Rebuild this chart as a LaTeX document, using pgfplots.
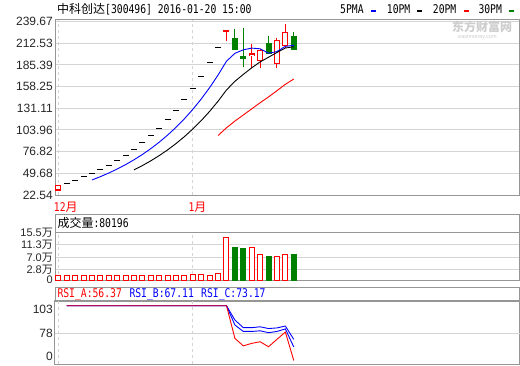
\documentclass[border=0pt]{standalone}
\usepackage{pgfplots}
\pgfplotsset{compat=1.18}
\usepackage{pgfplotstable}
\usepackage{fontspec}
\setmainfont{Liberation Sans}
\newfontfamily\cjk{Noto Sans CJK SC}
\newfontfamily\mono[FakeStretch=0.81]{DejaVu Sans Mono}
\definecolor{upred}{RGB}{255,0,0}
\definecolor{dngreen}{RGB}{0,128,0}
\definecolor{mablue}{RGB}{0,0,255}
\definecolor{framec}{RGB}{150,150,150}
\definecolor{gridc}{RGB}{212,212,212}
\definecolor{wm}{RGB}{205,205,205}

% candles: day index, open, high, low, close
\pgfplotstableread{
i O H L C
0 28.8 33.86 27.5 33.86
20 227.8 227.8 215.6 227.8
23 196.5 211.5 182.0 199.0
24 191.1 204.9 181.1 202.8
26 187.4 218.7 181.9 215.3
27 209.9 236.5 207.1 226.2
}\redK
\pgfplotstableread{
i O H L C
21 218.7 229.9 204.9 204.9
22 195.6 231.7 183.1 193.1
25 212.4 221.5 199.9 199.9
28 221.5 226.9 204.9 204.9
}\greenK
% one-price limit-up days
\pgfplotstableread{
i C
1 37.25
2 40.97
3 45.07
4 49.58
5 54.53
6 59.99
7 65.99
8 72.58
9 79.84
10 87.83
11 96.61
12 106.27
13 116.90
14 128.59
15 141.45
16 155.59
17 171.15
18 188.27
19 207.10
}\flatK
\pgfplotstableread{
i v
4 41.35
5 45.48
6 50.03
7 55.03
8 60.53
9 66.59
10 73.25
11 80.57
12 88.63
13 97.49
14 107.24
15 117.96
16 129.76
17 142.74
18 157.01
19 172.71
20 189.98
21 199.84
22 204.23
23 206.38
24 205.52
25 199.94
26 202.02
27 208.64
28 209.82
}\maFive
\pgfplotstableread{
i v
9 53.97
10 59.36
11 65.30
12 71.83
13 79.01
14 86.91
15 95.61
16 105.17
17 115.68
18 127.25
19 139.98
20 153.97
21 164.80
22 173.49
23 181.70
24 189.12
25 194.96
26 200.93
27 206.44
28 208.10
}\maTen
\pgfplotstableread{
i v
19 96.97
20 106.67
21 115.05
22 122.66
23 130.35
24 138.01
25 145.28
26 153.05
27 161.06
28 167.68
}\maTwenty
% volume (10k shares)
\pgfplotstableread{
i v
0 0.9
1 0.9
2 0.9
3 0.9
4 0.9
5 0.9
6 0.9
7 0.9
8 0.9
9 0.9
10 0.9
11 0.9
12 0.9
13 0.9
14 0.9
15 0.9
16 1.24
17 1.24
18 0.9
19 1.58
20 13.8
23 10.4
24 8.13
26 7.45
27 8.13
}\volR
\pgfplotstableread{
i v
21 10.5
22 9.83
25 7.45
28 8.02
}\volG
% RSI
\pgfplotstableread{
i A B C
1 100 100 100
2 100 100 100
3 100 100 100
4 100 100 100
5 100 100 100
6 100 100 100
7 100 100 100
8 100 100 100
9 100 100 100
10 100 100 100
11 100 100 100
12 100 100 100
13 100 100 100
14 100 100 100
15 100 100 100
16 100 100 100
17 100 100 100
18 100 100 100
19 100 100 100
20 100 100 100
21 74 84.6 88.6
22 68 79.5 82.5
23 70 79.5 82.5
24 71.3 80 83.2
25 67.3 78.5 81.8
26 73.2 79.5 82.3
27 79 81.5 83.8
28 56.37 67.11 73.17
}\rsi

\pgfplotsset{
  panel/.style={
    scale only axis, anchor=south west, width=464.5pt,
    xmin=-0.39, xmax=54.84,
    axis line style={framec, line width=1pt},
    major tick length=0pt,
    xtick={0,16},
    xmajorgrids,
    x grid style={gridc, line width=1pt, dash pattern=on 3pt off 3pt},
    y grid style={gridc, line width=1pt},
    yticklabel style={anchor=east, inner sep=0pt, xshift=-2pt,
      font=\fontsize{12}{12}\selectfont, text=black!85},
  },
  ebar/.style 2 args={draw=none, mark=none, forget plot,
    error bars/.cd, y dir=both, y explicit, error mark=none,
    error bar style={draw=#1, line width=#2}},
}

\begin{document}
\begin{tikzpicture}[x=1pt,y=1pt]
\path[use as bounding box] (0,0) rectangle (520,365);

% ---------- price panel ----------
\begin{axis}[panel, at={(55pt,170pt)}, height=175pt,
  ymin=22.54, ymax=241.55,
  ytick={22.54,49.68,76.82,103.96,131.11,158.25,185.39,212.53,239.67},
  yticklabels={22.54,49.68,76.82,103.96,131.11,158.25,185.39,212.53,239.67},
  ymajorgrids,
  xticklabels={{\mono 12}{\cjk 月},{\mono 1}{\cjk 月}},
  xticklabel style={text=upred, anchor=north west, inner sep=0pt,
    xshift=-4.5pt, yshift=-6.5pt, font=\fontsize{12}{12}\selectfont},
]
% wicks
\addplot[ebar={upred}{1pt}]
  table[x=i, y expr={(\thisrow{H}+\thisrow{L})/2}, y error expr={(\thisrow{H}-\thisrow{L})/2}] {\redK};
\addplot[ebar={dngreen}{1pt}]
  table[x=i, y expr={(\thisrow{H}+\thisrow{L})/2}, y error expr={(\thisrow{H}-\thisrow{L})/2}] {\greenK};
% bodies
\addplot[ebar={upred}{6pt}]
  table[x=i, y expr={(\thisrow{O}+\thisrow{C})/2}, y error expr={abs(\thisrow{C}-\thisrow{O})/2+0.63}] {\redK};
\addplot[ebar={white}{4pt}]
  table[x=i, y expr={(\thisrow{O}+\thisrow{C})/2}, y error expr={max(abs(\thisrow{C}-\thisrow{O})/2-0.63,0)}] {\redK};
\addplot[ebar={dngreen}{6pt}]
  table[x=i, y expr={(\thisrow{O}+\thisrow{C})/2}, y error expr={abs(\thisrow{C}-\thisrow{O})/2+0.63}] {\greenK};
% one-price days
\addplot[only marks, mark=-, mark size=3pt, mark options={black, line width=1pt}] table[x=i, y=C] {\flatK};
% moving averages
\addplot[mablue, line width=0.9pt, mark=none] table[x=i, y=v] {\maFive};
\addplot[black, line width=0.9pt, mark=none] table[x=i, y=v] {\maTen};
\addplot[upred, line width=0.9pt, mark=none] table[x=i, y=v] {\maTwenty};
\end{axis}

% ---------- volume panel ----------
\draw[framec, line width=1pt] (55,132.7) rectangle (519.5,151);
\begin{axis}[panel, at={(55pt,85pt)}, height=47.7pt,
  ymin=-0.7, ymax=15.5,
  ytick={-0.7,2.8,7.0,11.3,15.5},
  yticklabels={0,2.8{\cjk 万},7.0{\cjk 万},11.3{\cjk 万},15.5{\cjk 万}},
  yticklabel style={font=\fontsize{11}{11}\selectfont},
  ymajorgrids,
  xticklabels={},
]
% bars drawn from the panel floor (-0.7) up to the volume
\addplot[ebar={upred}{6pt}]
  table[x=i, y expr={(\thisrow{v}-0.7)/2}, y error expr={(\thisrow{v}+0.7)/2+0.17}] {\volR};
\addplot[ebar={white}{4pt}]
  table[x=i, y expr={(\thisrow{v}-0.7)/2}, y error expr={(\thisrow{v}+0.7)/2-0.17}] {\volR};
\addplot[ebar={dngreen}{6pt}]
  table[x=i, y expr={(\thisrow{v}-0.7)/2}, y error expr={(\thisrow{v}+0.7)/2+0.17}] {\volG};
\end{axis}

% ---------- RSI panel ----------
\draw[framec, line width=1pt] (55,64) rectangle (519.5,78);
\begin{axis}[panel, at={(55pt,1pt)}, height=63pt,
  ymin=53.55, ymax=103.75,
  ytick={59.9,97.4}, yticklabels={0,103},
  extra y ticks={78}, extra y tick labels={78},
  extra y tick style={ymajorgrids},
  xticklabels={},
]
\addplot[mablue, line width=0.9pt, mark=none] table[x=i, y=C] {\rsi};
\addplot[mablue, line width=0.9pt, mark=none] table[x=i, y=B] {\rsi};
\addplot[upred, line width=0.9pt, mark=none] table[x=i, y=A] {\rsi};
\end{axis}

% ---------- texts ----------
\begin{scope}[every node/.style={anchor=base west, inner sep=0pt, font=\fontsize{12}{12}\selectfont}]
\node at (57,351) {{\cjk 中科创达}{\mono [300496] 2016-01-20 15:00}};
\node at (340,351) {\mono 5PMA};
\node at (371,351) {\textcolor{mablue}{\rule[1.8pt]{5pt}{2.5pt}}};
\node at (386.7,351) {\mono 10PM};
\node at (416.7,351) {\textcolor{black}{\rule[1.8pt]{5pt}{2.5pt}}};
\node at (432.7,351) {\mono 20PM};
\node at (463.3,351) {\textcolor{upred}{\rule[1.8pt]{5pt}{2.5pt}}};
\node at (478.3,351) {\mono 30PM};
\node at (508.3,351) {\textcolor{dngreen}{\rule[1.8pt]{5pt}{2.5pt}}};
\node[text=wm, font=\fontsize{12}{12}\selectfont\bfseries] at (452,333) {\cjk 东方财富网};
\node[text=wm, font=\fontsize{5.5}{6}\selectfont] at (458,326) {eastmoney.com};
\node at (57.3,137.5) {{\cjk 成交量}{\mono :80196}};
\node[text=upred] at (57.3,67.5) {\mono RSI\_A:56.37};
\node[text=mablue] at (129.3,67.5) {\mono RSI\_B:67.11};
\node[text=mablue] at (201,67.5) {\mono RSI\_C:73.17};
\end{scope}
\end{tikzpicture}
\end{document}
